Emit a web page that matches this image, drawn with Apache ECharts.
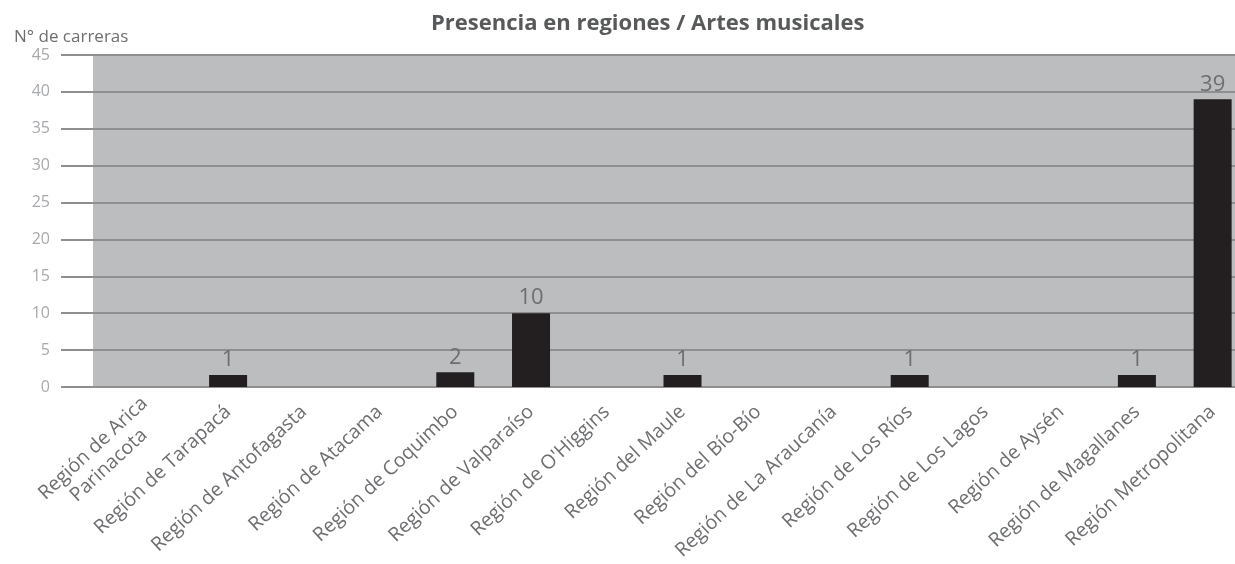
<!DOCTYPE html>
<html>
<head>
<meta charset="utf-8">
<script src="https://cdn.jsdelivr.net/npm/echarts@6/dist/echarts.min.js"></script>
<style>
html,body{margin:0;padding:0;background:#fff;}
#chart{width:1235px;height:564px;}
</style>
</head>
<body>
<div id="chart"></div>
<script>
const titleText = 'Presencia en regiones / Artes musicales';
const yAxisTitle = 'N° de carreras';
const categories = [
  'Región de Arica\nParinacota',
  'Región de Tarapacá',
  'Región de Antofagasta',
  'Región de Atacama',
  'Región de Coquimbo',
  'Región de Valparaíso',
  "Región de O'Higgins",
  'Región del Maule',
  'Región del Bío-Bío',
  'Región de La Araucanía',
  'Región de Los Ríos',
  'Región de Los Lagos',
  'Región de Aysén',
  'Región de Magallanes',
  'Región Metropolitana'
];
const carreras = [null, 1, null, null, 2, 10, null, 1, null, null, 1, null, null, 1, 39];
const yMin = 0, yMax = 45, yStep = 5;

const FONT = '"Open Sans", "Noto Sans", sans-serif';
const TOP = 55, BOTTOM = 177;
const LINE = '#8f8f8f';
const LABEL_COLOR = '#6d6e71';

const chart = echarts.init(document.getElementById('chart'));
chart.setOption({
  animation: false,
  title: [
    { text: titleText, left: 426, top: 8,
      textStyle: { fontFamily: FONT, fontSize: 22, fontWeight: 'bold', color: '#58595b' } },
    { text: yAxisTitle, left: 9, top: 24,
      textStyle: { fontFamily: FONT, fontSize: 17, fontWeight: 'normal', color: LABEL_COLOR } }
  ],
  grid: [
    { left: 93, right: 0, top: TOP, bottom: BOTTOM, show: true, backgroundColor: '#bcbdbf', borderWidth: 0, outerBoundsMode: 'none' },
    { left: 61, right: 0, top: TOP, bottom: BOTTOM, outerBoundsMode: 'none' },
    { left: 114.5, width: 1136, top: TOP, bottom: BOTTOM, outerBoundsMode: 'none' }
  ],
  xAxis: [
    { gridIndex: 0, type: 'category', data: categories, show: false },
    { gridIndex: 1, type: 'category', data: categories, show: false },
    { gridIndex: 2, type: 'category', data: categories,
      axisLine: { show: false }, axisTick: { show: false },
      axisLabel: { interval: 0, rotate: 43, margin: 22, fontFamily: FONT, fontSize: 19.5,
        color: LABEL_COLOR, lineHeight: 23,
        formatter: v => v.split('\n').map(s => '{c|' + s + '}').join('\n'),
        rich: { c: { align: 'center', fontFamily: FONT, fontSize: 19.5, color: LABEL_COLOR, lineHeight: 23 } } } }
  ],
  yAxis: [
    { gridIndex: 0, type: 'value', min: yMin, max: yMax, interval: yStep, show: false },
    { gridIndex: 1, type: 'value', min: yMin, max: yMax, interval: yStep,
      axisLine: { show: false }, axisTick: { show: false },
      splitLine: { show: true, lineStyle: { color: LINE, width: 2 } },
      axisLabel: { margin: 11, fontFamily: FONT, fontSize: 16, color: '#a7a9ac' } },
    { gridIndex: 2, type: 'value', min: yMin, max: yMax, interval: yStep, show: false }
  ],
  series: [{
    type: 'bar',
    xAxisIndex: 2, yAxisIndex: 2,
    data: carreras,
    barWidth: 38,
    barMinHeight: 12,
    itemStyle: { color: '#231f20' },
    label: { show: true, position: 'top', distance: 4, fontFamily: FONT, fontSize: 22,
      color: LABEL_COLOR }
  }]
});
</script>
</body>
</html>
